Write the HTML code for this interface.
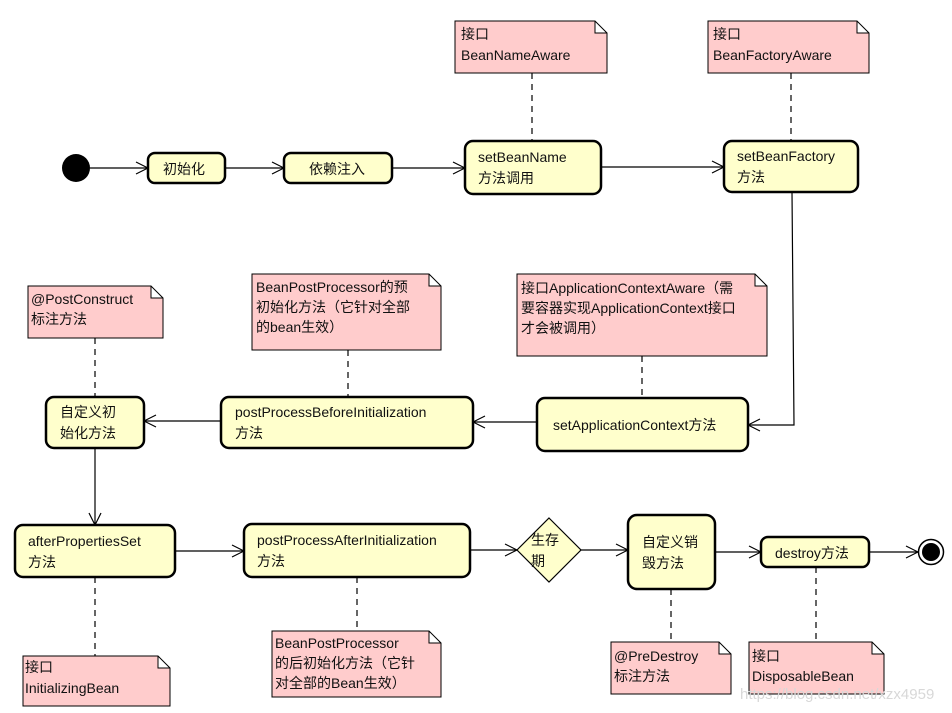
<!DOCTYPE html>
<html><head><meta charset="utf-8"><style>body{margin:0;background:#fff}svg{display:block}text{font-family:"Liberation Sans","Noto Sans CJK SC",sans-serif;font-size:14px;fill:#111}</style></head><body>
<svg width="952" height="713" viewBox="0 0 952 713" xmlns="http://www.w3.org/2000/svg">
<defs><marker id="a" markerWidth="14" markerHeight="14" refX="13" refY="7" orient="auto" markerUnits="userSpaceOnUse"><path d="M1,1 L13,7 L1,13" fill="none" stroke="#000" stroke-width="1.2"/></marker></defs>
<g stroke="#000" stroke-width="1.2" fill="none" marker-end="url(#a)">
<line x1="90" y1="168" x2="148" y2="168"/>
<line x1="225" y1="168" x2="284" y2="168"/>
<line x1="392" y1="168" x2="465" y2="168"/>
<line x1="601" y1="167" x2="724" y2="167"/>
<polyline points="792,192 794,425 748,425"/>
<line x1="537" y1="422" x2="473" y2="422"/>
<line x1="221" y1="421" x2="144" y2="421"/>
<line x1="95" y1="448" x2="95" y2="525"/>
<line x1="175" y1="551" x2="244" y2="551"/>
<line x1="470" y1="550" x2="517" y2="550"/>
<line x1="581" y1="550" x2="628" y2="550"/>
<line x1="715" y1="552" x2="761" y2="552"/>
<line x1="869" y1="552" x2="918" y2="552"/>
</g>
<g stroke="#000" stroke-width="1.2" stroke-dasharray="6,5">
<line x1="532" y1="73" x2="532" y2="141"/><line x1="791" y1="73" x2="791" y2="141"/>
<line x1="642" y1="356" x2="642" y2="398"/><line x1="348" y1="350" x2="348" y2="397"/>
<line x1="95" y1="338" x2="95" y2="397"/><line x1="95" y1="577" x2="95" y2="656"/>
<line x1="357" y1="577" x2="357" y2="631"/><line x1="671" y1="589" x2="671" y2="642"/>
<line x1="816" y1="567" x2="816" y2="642"/>
</g>
<circle cx="76" cy="168" r="14" fill="#000"/>
<circle cx="931" cy="552" r="12.5" fill="#fff" stroke="#000" stroke-width="1.5"/><circle cx="931" cy="552" r="9" fill="#000"/>
<g fill="#ffffcc" stroke="#000" stroke-width="2.5">
<rect x="148" y="153" width="77" height="30" rx="7"/>
<rect x="284" y="153" width="108" height="30" rx="7"/>
<rect x="465" y="141" width="136" height="53" rx="8"/>
<rect x="724" y="141" width="134" height="51" rx="8"/>
<rect x="537" y="398" width="211" height="53" rx="8"/>
<rect x="221" y="397" width="252" height="51" rx="8"/>
<rect x="46" y="397" width="98" height="51" rx="8"/>
<rect x="15" y="525" width="160" height="52" rx="8"/>
<rect x="244" y="524" width="226" height="53" rx="8"/>
<rect x="628" y="515" width="87" height="74" rx="9"/>
<rect x="761" y="537" width="108" height="30" rx="7"/>
</g>
<polygon points="549,518 581,550 549,582 517,550" fill="#ffffcc" stroke="#000" stroke-width="1.2"/>
<g fill="#ffcccc" stroke="#000" stroke-width="1">
<path d="M455,21 H595 L607,33 V73 H455 Z M595,21 V33 H607"/>
<path d="M708,21 H857 L869,33 V73 H708 Z M857,21 V33 H869"/>
<path d="M517,274 H755 L767,286 V356 H517 Z M755,274 V286 H767"/>
<path d="M252,274 H429 L441,286 V350 H252 Z M429,274 V286 H441"/>
<path d="M28,286 H151 L163,298 V338 H28 Z M151,286 V298 H163"/>
<path d="M23,656 H158 L170,668 V706 H23 Z M158,656 V668 H170"/>
<path d="M272,631 H429 L441,643 V697 H272 Z M429,631 V643 H441"/>
<path d="M611,642 H719 L731,654 V694 H611 Z M719,642 V654 H731"/>
<path d="M749,642 H872 L884,654 V694 H749 Z M872,642 V654 H884"/>
</g>
<text x="163" y="174">初始化</text>
<text x="309" y="174">依赖注入</text>
<text x="478" y="162">setBeanName</text><text x="478" y="183">方法调用</text>
<text x="737" y="161">setBeanFactory</text><text x="737" y="182">方法</text>
<text x="553" y="430">setApplicationContext方法</text>
<text x="235" y="417">postProcessBeforeInitialization</text><text x="235" y="438">方法</text>
<text x="60" y="417">自定义初</text><text x="60" y="438">始化方法</text>
<text x="28" y="546">afterPropertiesSet</text><text x="28" y="567">方法</text>
<text x="257" y="545">postProcessAfterInitialization</text><text x="257" y="566">方法</text>
<text x="531" y="545">生存</text><text x="531" y="566">期</text>
<text x="642" y="547">自定义销</text><text x="642" y="568">毁方法</text>
<text x="775" y="558">destroy方法</text>
<text x="461" y="39">接口</text><text x="461" y="60">BeanNameAware</text>
<text x="713" y="39">接口</text><text x="713" y="60">BeanFactoryAware</text>
<text x="521" y="293">接口ApplicationContextAware（需</text><text x="521" y="313">要容器实现ApplicationContext接口</text><text x="521" y="333">才会被调用）</text>
<text x="256" y="292">BeanPostProcessor的预</text><text x="256" y="312">初始化方法（它针对全部</text><text x="256" y="332">的bean生效）</text>
<text x="31" y="304">@PostConstruct</text><text x="31" y="324">标注方法</text>
<text x="25" y="672">接口</text><text x="25" y="693">InitializingBean</text>
<text x="275" y="648">BeanPostProcessor</text><text x="275" y="668">的后初始化方法（它针</text><text x="275" y="688">对全部的Bean生效）</text>
<text x="614" y="661">@PreDestroy</text><text x="614" y="681">标注方法</text>
<text x="752" y="661">接口</text><text x="752" y="681">DisposableBean</text>
<text x="740" y="699" style="fill:#d8d8d8;font-size:15px">https://blog.csdn.net/xzx4959</text>
</svg>
</body></html>
